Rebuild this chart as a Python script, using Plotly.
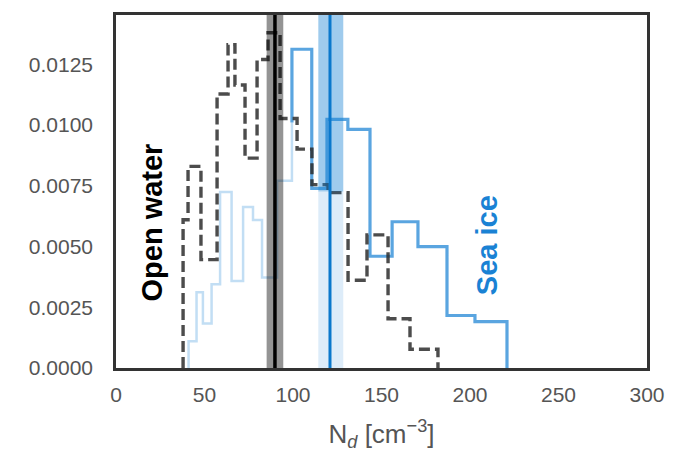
import plotly.graph_objects as go

# Droplet number concentration histograms (probability density)
open_edges = [37.9, 40.7, 48.0, 57.1, 63.3, 67.2, 72.9, 79.7, 85.9, 92.7,
              102.3, 110.7, 119.8, 131.1, 141.8, 153.7, 166.1, 181.9]
open_density = [0.0061, 0.0083, 0.00446, 0.01128, 0.01331, 0.01165, 0.00864,
                0.0127, 0.0138, 0.01027, 0.00901, 0.00755, 0.00722, 0.00361,
                0.00548, 0.00203, 0.00077]

# Sea ice, upper part of the distribution
ice_edges = [99.4, 110.6, 119.2, 131.0, 143.5, 156.0, 170.6, 187.0, 202.8, 220.9]
ice_density = [0.01312, 0.00739, 0.01023, 0.00982, 0.0046, 0.00602, 0.0050,
               0.00216, 0.00191]

# Sea ice, lower part of the distribution
ice_low_edges = [41.0, 45.5, 49.1, 54.0, 58.8, 65.3, 71.8, 77.4, 82.5, 91.0, 99.4]
ice_low_density = [0.0011, 0.00312, 0.00183, 0.00345, 0.00724, 0.00358, 0.00663,
                   0.00609, 0.00373, 0.00771]
# level at which the two sea ice outlines join
ice_join = 0.0101

# Means and their uncertainty ranges
open_mean, open_lo, open_hi = 89.8, 85.1, 94.5
ice_mean, ice_lo, ice_hi = 120.9, 114.3, 128.4

x_ticks = [0, 50, 100, 150, 200, 250, 300]
y_ticks = [0.0, 0.0025, 0.005, 0.0075, 0.01, 0.0125]
y_tick_text = ["0.0000", "0.0025", "0.0050", "0.0075", "0.0100", "0.0125"]

BLUE = "#1a82d4"
FONT = "Liberation Sans, Arial, sans-serif"


def step_xy(edges, dens, start=0.0, end=0.0):
    xs = [edges[0]] + list(edges) + [edges[-1]]
    ys = [start] + list(dens) + [dens[-1], end]
    return xs, ys


fig = go.Figure()

x, y = step_xy(ice_low_edges, ice_low_density, end=ice_join)
fig.add_trace(go.Scatter(x=x, y=y, mode="lines", line_shape="hv",
                         line=dict(color="rgb(194,222,244)", width=2.5),
                         showlegend=False, hoverinfo="skip"))

x, y = step_xy(ice_edges, ice_density, start=ice_join)
fig.add_trace(go.Scatter(x=x, y=y, mode="lines", line_shape="hv",
                         line=dict(color="rgba(26,130,212,0.72)", width=3.2),
                         showlegend=False, hoverinfo="skip"))

x, y = step_xy(open_edges, open_density)
fig.add_trace(go.Scatter(x=x, y=y, mode="lines", line_shape="hv",
                         line=dict(color="rgba(45,45,45,0.85)", width=3.4,
                                   dash="11px,5px"),
                         showlegend=False, hoverinfo="skip"))

shapes = [
    dict(type="rect", xref="x", yref="paper", x0=open_lo, x1=open_hi, y0=0, y1=1,
         fillcolor="rgba(0,0,0,0.42)", line_width=0, layer="above"),
    dict(type="rect", xref="x", yref="paper", x0=ice_lo, x1=ice_hi, y0=0.5, y1=1,
         fillcolor="rgba(26,130,212,0.42)", line_width=0, layer="above"),
    dict(type="rect", xref="x", yref="paper", x0=ice_lo, x1=ice_hi, y0=0, y1=0.5,
         fillcolor="rgba(26,130,212,0.15)", line_width=0, layer="above"),
    dict(type="line", xref="x", yref="paper", x0=open_mean, x1=open_mean, y0=0, y1=1,
         line=dict(color="black", width=3.5), layer="above"),
    dict(type="line", xref="x", yref="paper", x0=ice_mean, x1=ice_mean, y0=0, y1=1,
         line=dict(color="#0a78cc", width=3), layer="above"),
]

annotations = [
    dict(x=20.5, y=0.00600, xref="x", yref="y", text="<b>Open water</b>",
         textangle=-90, showarrow=False,
         font=dict(family=FONT, size=29, color="black")),
    dict(x=209.5, y=0.00505, xref="x", yref="y", text="<b>Sea ice</b>",
         textangle=-90, showarrow=False,
         font=dict(family=FONT, size=29, color=BLUE)),
]

fig.update_layout(
    width=687, height=456,
    margin=dict(l=116, r=40, t=12, b=86),
    paper_bgcolor="white", plot_bgcolor="white",
    shapes=shapes, annotations=annotations,
    font=dict(family=FONT, size=21, color="#555555"),
    xaxis=dict(range=[0, 300], tickvals=x_ticks, showgrid=False, zeroline=False,
               showline=True, linecolor="#333333", linewidth=2.5, mirror=True,
               ticks="", ticklabelstandoff=6, tickfont=dict(size=21),
               title=dict(text="N<sub><i>d</i></sub> [cm<sup>−3</sup>]",
                          font=dict(size=26, color="#555555"), standoff=20)),
    yaxis=dict(range=[0, 0.01453], tickvals=y_ticks, ticktext=y_tick_text,
               showgrid=False, zeroline=False, showline=True,
               linecolor="#333333", linewidth=2.5, mirror=True,
               ticks="", ticklabelstandoff=16, tickfont=dict(size=21)),
)

fig.write_html("out.html")
